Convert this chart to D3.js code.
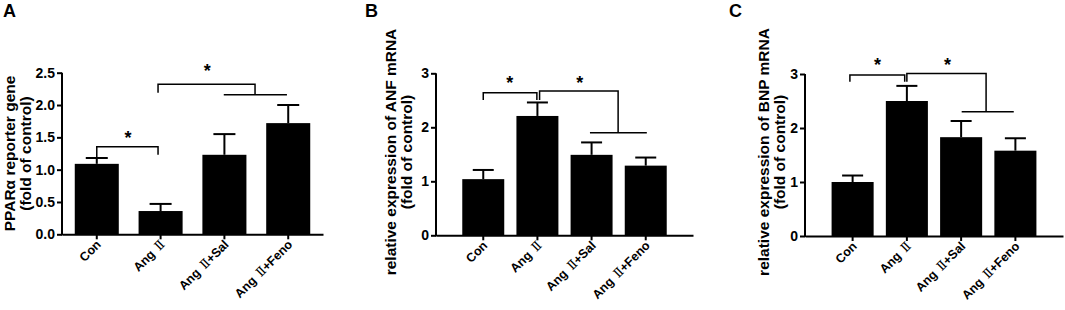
<!DOCTYPE html>
<html><head><meta charset="utf-8">
<script src="https://cdn.jsdelivr.net/npm/d3@7"></script>
<style>
body{margin:0;background:#fff;}
svg text{font-family:"Liberation Sans",Arial,sans-serif;font-weight:bold;fill:#000;}
</style></head>
<body>
<svg id="chart" width="1065" height="310"></svg>
<script>
// ---- data ----
const categories = ["Con", "Ang \u2161", "Ang \u2161+Sal", "Ang \u2161+Feno"];
const pparValues = [1.09, 0.36, 1.23, 1.72];
const pparErrors = [0.09, 0.11, 0.32, 0.28];
const anfValues = [1.04, 2.21, 1.49, 1.29];
const anfErrors = [0.17, 0.25, 0.23, 0.15];
const bnpValues = [1.00, 2.50, 1.83, 1.58];
const bnpErrors = [0.12, 0.28, 0.30, 0.23];
const ticksA = [0, 0.5, 1.0, 1.5, 2.0, 2.5];
const ticksBC = [0, 1, 2, 3];
// significance brackets: points as [category position, value]
const bracketsA = [
  [[0, 1.18], [0, 1.356], [0.96, 1.356], [0.96, 1.23]],
  [[0.96, 2.19], [0.96, 2.32], [2.48, 2.32], [2.48, 2.16]],
  [[1.99, 2.16], [2.98, 2.16]]
];
const starsA = [[0.49, 1.54], [1.73, 2.58]];
const bracketsB = [
  [[0, 2.505], [0, 2.64], [0.99, 2.64], [0.99, 2.505]],
  [[1.04, 2.505], [1.04, 2.67], [2.49, 2.67], [2.49, 1.9]],
  [[1.97, 1.9], [3.02, 1.9]]
];
const starsB = [[0.49, 2.876], [1.78, 2.876]];
const bracketsC = [
  [[-0.05, 2.857], [-0.05, 2.98], [0.96, 2.98], [0.96, 2.857]],
  [[1.0, 2.857], [1.0, 3.01], [2.46, 3.01], [2.46, 2.30]],
  [[2.01, 2.30], [2.97, 2.30]]
];
const starsC = [[0.46, 3.23], [1.75, 3.23]];

const svg = d3.select("#chart");

function addLabel(sel, txt) {
  // render the roman numeral in a serif face, as in the original figure
  const parts = txt.split("\u2161");
  parts.forEach((p, k) => {
    if (p) sel.append("tspan").text(p);
    if (k < parts.length - 1) {
      sel.append("tspan").attr("dx", 2).style("font-family", '"DejaVu Serif","Liberation Serif",serif')
        .style("font-weight", "normal").text("\u2161");
    }
  });
}

function drawPanel(cfg) {
  const g = svg.append("g");
  const x = d3.scaleBand().domain(categories).range([cfg.x0, cfg.x1])
    .paddingInner(cfg.pi).paddingOuter(cfg.po);
  const y = d3.scaleLinear().domain([0, cfg.ymax]).range([cfg.y0, cfg.yTop]);
  const bw = x.bandwidth();
  const cx = t => x(categories[0]) + bw / 2 + t * x.step();

  // bars
  g.selectAll("rect.bar").data(cfg.values).join("rect")
    .attr("x", (d, i) => x(categories[i]))
    .attr("y", d => y(d))
    .attr("width", bw)
    .attr("height", d => y(0) - y(d))
    .attr("fill", "#000");
  // error bars
  const eg = g.selectAll("g.err").data(cfg.values).join("g");
  eg.append("line")
    .attr("x1", (d, i) => x(categories[i]) + bw / 2)
    .attr("x2", (d, i) => x(categories[i]) + bw / 2)
    .attr("y1", d => y(d))
    .attr("y2", (d, i) => y(d + cfg.errors[i]))
    .attr("stroke", "#000").attr("stroke-width", 2);
  eg.append("line")
    .attr("x1", (d, i) => x(categories[i]) + bw / 4)
    .attr("x2", (d, i) => x(categories[i]) + bw * 3 / 4)
    .attr("y1", (d, i) => y(d + cfg.errors[i]))
    .attr("y2", (d, i) => y(d + cfg.errors[i]))
    .attr("stroke", "#000").attr("stroke-width", 2);

  // y axis
  const yAxis = d3.axisLeft(y).tickValues(cfg.ticks).tickSizeOuter(0).tickSizeInner(5).tickPadding(2)
    .tickFormat(cfg.fmt);
  const ya = g.append("g").attr("transform", `translate(${cfg.x0},0)`).call(yAxis);
  ya.select(".domain").attr("stroke-width", 2).attr("d", `M0,${cfg.y0 + 1}V${cfg.yTop}`);
  ya.selectAll(".tick line").attr("stroke-width", 2);
  ya.selectAll(".tick text").style("font-size", "14px").style("font-family", '"Liberation Sans",Arial,sans-serif').style("font-weight", "bold");

  // x axis
  const xAxis = d3.axisBottom(x).tickSizeOuter(0).tickSizeInner(5).tickFormat("");
  const xa = g.append("g").attr("transform", `translate(0,${cfg.y0})`).call(xAxis);
  xa.select(".domain").attr("stroke-width", 2);
  xa.selectAll(".tick line").attr("stroke-width", 2);
  g.selectAll("text.xl").data(categories).join("text")
    .attr("class", "xl")
    .attr("transform", d => `translate(${x(d) + bw / 2 + 5},${cfg.y0 + 11}) rotate(-45)`)
    .attr("text-anchor", "end")
    .style("font-size", "12.5px")
    .each(function (d) { addLabel(d3.select(this), d); });

  // y label
  const lx = cfg.labelX, ly = cfg.labelY;
  cfg.ylabel.forEach((t, k) => {
    g.append("text")
      .attr("transform", `translate(${lx + k * 16},${ly}) rotate(-90)`)
      .attr("text-anchor", "middle")
      .style("font-size", "15.5px")
      .text(t);
  });

  // panel letter
  g.append("text").attr("x", cfg.letterX).attr("y", 17)
    .style("font-size", "18px").text(cfg.letter);

  // brackets
  const line = d3.line().x(p => cx(p[0])).y(p => y(p[1]));
  g.selectAll("path.br").data(cfg.brackets).join("path")
    .attr("d", line).attr("fill", "none").attr("stroke", "#000").attr("stroke-width", 1.5);
  g.selectAll("text.star").data(cfg.stars).join("text")
    .attr("x", p => cx(p[0])).attr("y", p => y(p[1]) + 9)
    .attr("text-anchor", "middle")
    .style("font-size", "18px")
    .text("*");
}

drawPanel({letter: "A", letterX: 3, x0: 62, x1: 323, pi: 0.31, po: 0.2,
  y0: 234.3, yTop: 72.7, ymax: 2.5, ticks: ticksA, fmt: d3.format(".1f"),
  values: pparValues, errors: pparErrors,
  ylabel: ["PPAR\u03b1 reporter gene", "(fold of control)"], labelX: 15, labelY: 153.5,
  brackets: bracketsA, stars: starsA});
drawPanel({letter: "B", letterX: 365, x0: 436, x1: 693, pi: 0.225, po: 0.485,
  y0: 235.3, yTop: 73.3, ymax: 3, ticks: ticksBC, fmt: d3.format("d"),
  values: anfValues, errors: anfErrors,
  ylabel: ["relative expression of ANF mRNA", "(fold of control)"], labelX: 396, labelY: 152,
  brackets: bracketsB, stars: starsB});
drawPanel({letter: "C", letterX: 729, x0: 805, x1: 1063, pi: 0.225, po: 0.49,
  y0: 236, yTop: 74, ymax: 3, ticks: ticksBC, fmt: d3.format("d"),
  values: bnpValues, errors: bnpErrors,
  ylabel: ["relative expression of BNP mRNA", "(fold of control)"], labelX: 769, labelY: 152,
  brackets: bracketsC, stars: starsC});
</script>
</body></html>
